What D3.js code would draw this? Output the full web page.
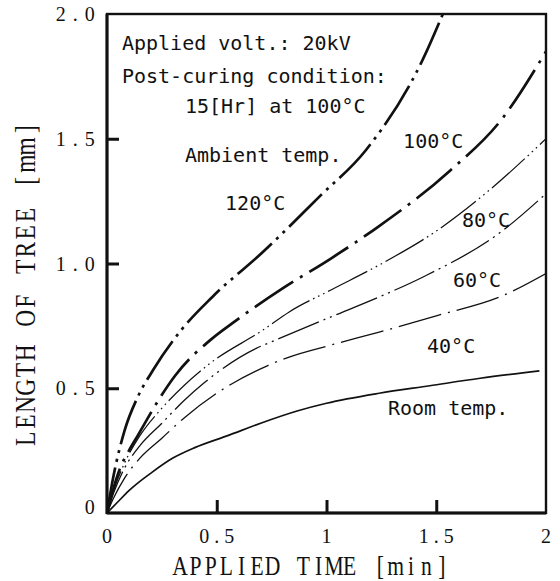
<!DOCTYPE html>
<html>
<head>
<meta charset="utf-8">
<script src="https://cdn.jsdelivr.net/npm/d3@7"></script>
<style>
	body { margin: 0; background: #fff; }
	.tick-label { font-family: "Liberation Serif", "Times New Roman", serif; font-size: 20px; fill: #111; }
	.axis-title { font-family: "Liberation Serif", "Times New Roman", serif; fill: #111; }
	.note { font-family: "DejaVu Sans Mono", monospace; font-size: 20px; fill: #111; }
</style>
</head>
<body>
<script>
"use strict";

// ticks
var xTicks = [0, 0.5, 1, 1.5, 2];
var xTickLabels = ["0", "0.5", "1", "1.5", "2"];
var yTicks = [0, 0.5, 1, 1.5, 2];
var yTickLabels = ["0", "0.5", "1.0", "1.5", "2.0"];

// [applied time (min), length of tree (mm)]
var roomTemp = [[0,0],[0.05,0.045],[0.1,0.09],[0.14,0.12],[0.2,0.16],[0.3,0.22],[0.4,0.262],[0.55,0.31],[0.7,0.36],[0.87,0.41],[1.0,0.44],[1.24,0.48],[1.47,0.51],[1.7,0.54],[1.97,0.57]];
var temp40 = [[0,0],[0.03,0.06],[0.08,0.14],[0.15,0.22],[0.25,0.3],[0.35,0.38],[0.5,0.48],[0.73,0.59],[0.83,0.625],[1.02,0.673],[1.24,0.725],[1.5,0.79],[1.8,0.87],[2.0,0.96]];
var temp60 = [[0,0],[0.03,0.08],[0.08,0.18],[0.15,0.27],[0.25,0.36],[0.35,0.45],[0.44,0.52],[0.68,0.66],[0.76,0.69],[1.02,0.786],[1.24,0.866],[1.44,0.946],[1.8,1.13],[2.0,1.28]];
var temp80 = [[0,0],[0.03,0.09],[0.08,0.2],[0.15,0.31],[0.25,0.42],[0.35,0.51],[0.47,0.6],[0.71,0.733],[0.83,0.806],[1.02,0.894],[1.24,0.994],[1.5,1.13],[1.75,1.3],[2.0,1.5]];
var temp100 = [[0,0],[0.03,0.1],[0.06,0.18],[0.1,0.25],[0.14,0.31],[0.24,0.46],[0.31,0.55],[0.48,0.7],[0.57,0.76],[0.8,0.9],[1.02,1.02],[1.24,1.15],[1.56,1.37],[1.8,1.58],[2.0,1.85]];
var temp120 = [[0,0],[0.03,0.15],[0.08,0.33],[0.14,0.465],[0.21,0.573],[0.34,0.735],[0.48,0.866],[0.71,1.046],[0.97,1.27],[1.18,1.455],[1.44,1.82],[1.53,2.0]];

var curveNames = ["Room temp.", "40°C", "60°C", "80°C", "100°C", "120°C"];

var width = 560, height = 581;
var plotLeft = 107, plotRight = 546, plotTop = 14, plotBottom = 513;

var svg = d3.select("body").append("svg")
	.attr("width", width)
	.attr("height", height);

var x = d3.scaleLinear().domain([0, 2]).range([plotLeft, plotRight]);
var y = d3.scaleLinear().domain([0, 2]).range([plotBottom, plotTop]);

// typewriter look: put every glyph of a serif font on a fixed pitch.
// anchor is "middle" (pos is the centre) or "end" (pos is the right edge).
// sx is a horizontal squeeze the caller applies with scale(sx, 1).
function monoText(sel, str, pitch, pos, anchor, sx) {
	if (sx == undefined) {
		sx = 1;
	}
	let n = str.length;
	let first = anchor == "end" ? pos - pitch * (n - 0.5) : pos - pitch * (n - 1) / 2;
	let xs = [];
	for (let i = 0; i < n; i++) {
		xs.push(((first + i * pitch) / sx).toFixed(1));
	}
	sel.attr("x", xs.join(" "))
	   .attr("text-anchor", "middle")
	   .text(str);
}

// line look for each curve, same order as curveNames
var styles = [
	{ w: 1.7, dash: null },
	{ w: 1.3, dash: "44 7 2 7" },
	{ w: 1.3, dash: "44 5 2 5 2 5" },
	{ w: 1.2, dash: "44 4 1.6 4 1.6 4 1.6 4" },
	{ w: 2.7, dash: "46 8 3 8" },
	{ w: 2.7, dash: "46 6 3 6 3 6" }
];
var series = [roomTemp, temp40, temp60, temp80, temp100, temp120];

svg.append("clipPath").attr("id", "plotclip")
	.append("rect")
	.attr("x", plotLeft).attr("y", plotTop)
	.attr("width", plotRight - plotLeft).attr("height", plotBottom - plotTop);

var line = d3.line()
	.x(d=>x(d[0]))
	.y(d=>y(d[1]))
	.curve(d3.curveMonotoneX);

var curves = svg.append("g").attr("clip-path", "url(#plotclip)");
series.forEach((data, i)=>{
	curves.append("path")
		.datum(data)
		.attr("d", line)
		.attr("fill", "none")
		.attr("stroke", "#111")
		.attr("stroke-width", styles[i].w)
		.attr("stroke-dasharray", styles[i].dash)
		.attr("stroke-linecap", "butt");
});

// frame
svg.append("rect")
	.attr("x", plotLeft).attr("y", plotTop)
	.attr("width", plotRight - plotLeft).attr("height", plotBottom - plotTop)
	.attr("fill", "none")
	.attr("stroke", "#111")
	.attr("stroke-width", 2.4);
svg.append("line")
	.attr("x1", plotLeft).attr("x2", plotLeft)
	.attr("y1", plotTop).attr("y2", plotBottom + 1)
	.attr("stroke", "#111").attr("stroke-width", 3);
svg.append("line")
	.attr("x1", plotLeft).attr("x2", plotRight)
	.attr("y1", plotBottom).attr("y2", plotBottom)
	.attr("stroke", "#111").attr("stroke-width", 3);

// axes: ticks point into the plot, labels drawn separately
var xaxis = d3.axisBottom(x).tickValues(xTicks.slice(1, -1)).tickSize(-13).tickFormat("");
svg.append("g").attr("transform", `translate(0, ${plotBottom})`).call(xaxis)
	.call(g=>g.select(".domain").remove())
	.call(g=>g.selectAll(".tick line").attr("stroke", "#111").attr("stroke-width", 3));

var yaxis = d3.axisLeft(y).tickValues(yTicks.slice(1, -1)).tickSize(-12).tickFormat("");
svg.append("g").attr("transform", `translate(${plotLeft}, 0)`).call(yaxis)
	.call(g=>g.select(".domain").remove())
	.call(g=>g.selectAll(".tick line").attr("stroke", "#111").attr("stroke-width", 3));

xTicks.forEach((d, i)=>{
	svg.append("text")
		.classed("tick-label", true)
		.attr("y", plotBottom + 30)
		.call(monoText, xTickLabels[i], 12.5, x(d), "middle");
});

yTicks.forEach((d, i)=>{
	svg.append("text")
		.classed("tick-label", true)
		.attr("y", y(d) + (d == 0 ? 1 : 7))
		.call(monoText, yTickLabels[i], 14.5, plotLeft - 10, "end");
});

var xsq = 0.8, ysq = 0.78;
svg.append("text")
	.classed("axis-title", true)
	.style("font-size", "27px")
	.attr("transform", `scale(${xsq}, 1)`)
	.attr("y", 575)
	.call(monoText, "APPLIED TIME [min]", 15.4, 311, "middle", xsq);

svg.append("text")
	.classed("axis-title", true)
	.style("font-size", "30px")
	.attr("transform", `translate(35, 284) rotate(-90) scale(${ysq}, 1)`)
	.attr("y", 0)
	.call(monoText, "LENGTH OF TREE [mm]", 17.2, 0, "middle", ysq);

// notes and curve labels, placed in data units
var notes = [
	["Applied volt.: 20kV", 0.068, 1.856],
	["Post-curing condition:", 0.068, 1.723],
	["15[Hr] at 100°C", 0.355, 1.603],
	["Ambient temp.", 0.355, 1.407],
	[curveNames[5], 0.538, 1.214],
	[curveNames[4], 1.349, 1.463],
	[curveNames[3], 1.617, 1.146],
	[curveNames[2], 1.576, 0.906],
	[curveNames[1], 1.458, 0.641],
	[curveNames[0], 1.28, 0.393]
];
svg.selectAll(".note")
	.data(notes)
	.enter().append("text")
	.classed("note", true)
	.attr("x", d=>x(d[1]))
	.attr("y", d=>y(d[2]))
	.text(d=>d[0]);
</script>
</body>
</html>
